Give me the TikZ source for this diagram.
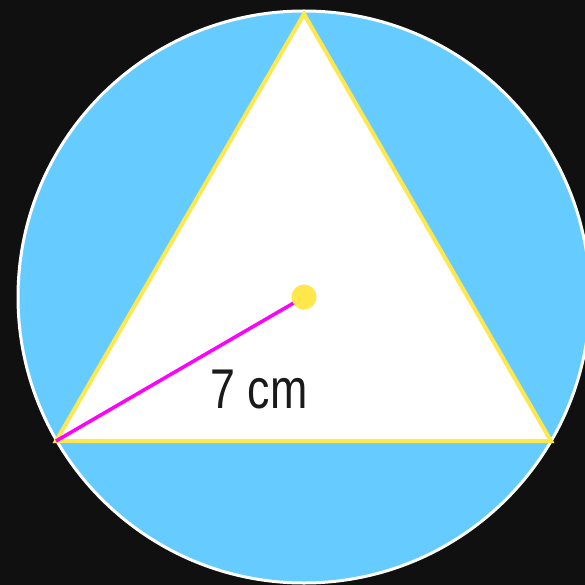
\documentclass[tikz,border=0pt]{standalone}
\usepackage{fontspec}
\newfontfamily\labelfont[FakeStretch=0.8]{Liberation Sans}
\usepackage{xcolor}
\definecolor{SceneBlack}{HTML}{101010}
\definecolor{DiscBlue}{HTML}{66CCFF}
\definecolor{EdgeYellow}{HTML}{FFE74C}
\definecolor{RadiusPink}{HTML}{FF00FF}
\definecolor{LabelInk}{HTML}{1A1A1A}
\usepackage{tikz}

\begin{document}
\begin{tikzpicture}[
  x=1pt,y=-1pt,
  disc/.style={fill=DiscBlue,draw=white,line width=3pt},
  tri/.style={fill=white,draw=EdgeYellow,line width=4pt,line join=miter},
  radius line/.style={draw=RadiusPink,line width=3.5pt},
  centre dot/.style={circle,fill=EdgeYellow,inner sep=0pt,minimum size=25pt}
]
\useasboundingbox (0,0) rectangle (585,585);
\clip (0,0) rectangle (585,585);
\fill[SceneBlack] (0,0) rectangle (585,585);
\coordinate (O) at (304,297);
\coordinate (A) at (304,14);
\coordinate (B) at (56,441);
\coordinate (C) at (551,441);
\draw[disc] (O) circle[radius=286];
\draw[tri] (A) -- (B) -- (C) -- cycle;
\draw[radius line] (B) -- (O);
\node[centre dot] (dot) at (O) {};
\node[anchor=base,font=\labelfont\fontsize{56}{60}\selectfont,text=LabelInk,inner sep=0pt] (len) at (259,408) {7 cm};
\end{tikzpicture}
\end{document}
